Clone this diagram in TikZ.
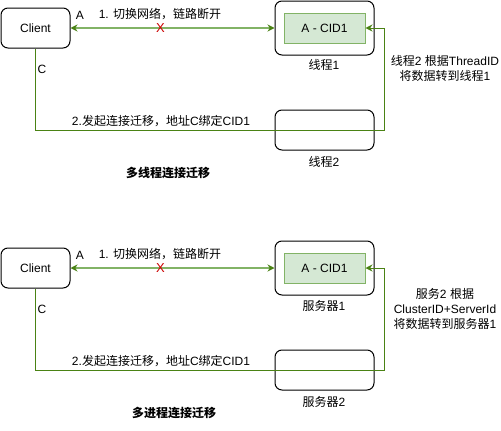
\documentclass[tikz,border=0pt]{standalone}
\usepackage{fontspec}
\setmainfont{Liberation Sans}
\newfontfamily\cjk{Noto Sans CJK SC}
\newcommand{\zh}[1]{{\cjk #1}}
\usetikzlibrary{arrows.meta,positioning}

\definecolor{linkLight}{HTML}{82B366}
\definecolor{linkDark}{HTML}{4A8214}
\definecolor{cidFill}{HTML}{D5E8D4}
\definecolor{crossRed}{HTML}{CC0000}

\begin{document}
\begin{tikzpicture}[
	x=1pt, y=-1pt,
	font=\fontsize{12}{15}\selectfont,
	>={Stealth[length=7pt,width=7pt,color=linkDark]},
	peer/.style={
		rectangle, rounded corners=7pt,
		draw=black, line width=1pt, fill=white,
		inner sep=0pt
	},
	cid/.style={
		rectangle, draw=linkLight, fill=cidFill,
		line width=1pt, minimum width=81pt, minimum height=30pt,
		inner sep=0pt
	},
	lost/.style={<->, line width=1.6pt, linkLight},
	move/.style={->, line width=1pt, linkDark},
	lbl/.style={inner sep=0pt, align=center},
	cross/.style={inner sep=0pt, text=crossRed, font=\fontsize{13}{15}\selectfont},
	ttl/.style={inner sep=0pt, font=\fontsize{12}{15}\selectfont\bfseries\cjk}
]
\useasboundingbox (0,0) rectangle (501,431);

% ---- Multi-thread migration (top)
\node[peer, minimum width=69pt, minimum height=40pt] (clientT) at (35.5, 28) {Client};
\node[peer, minimum width=99pt, minimum height=54pt] (thrOne) at (324.5, 28) {};
\node[cid] (cidT) at (324.5, 28) {A - CID1};
\node[peer, minimum width=99pt, minimum height=40pt] (thrTwo) at (324.5, 130) {};

\node[lbl] (thrOneL) at (324, 65) {\zh{线程}1};
\node[lbl] (thrTwoL) at (324, 162) {\zh{线程}2};

\draw[lost] (thrOne.west) -- (clientT.east);
\node[cross] (crossT) at (160.5, 28.5) {X};
\node[lbl] (addrAT) at (80, 15) {A};
\node[lbl] (stepOneT) at (160, 14) {1. \zh{切换网络，链路断开}};

\draw[move] (clientT.south) |- ([xshift=10pt]thrTwo.east) |- (cidT.east);
\node[lbl] (addrCT) at (42, 69) {C};
\node[lbl] (stepTwoT) at (161, 121) {2.\zh{发起连接迁移，地址}C\zh{绑定}CID1};
\node[lbl] (fwdT) at (445, 68.5) {\zh{线程}2 \zh{根据}ThreadID\\\zh{将数据转到线程}1};

\node[ttl] (titleT) at (168, 173) {多线程连接迁移};

% ---- Multi-process migration (bottom)
\node[peer, minimum width=69pt, minimum height=40pt] (clientB) at (35.5, 268) {Client};
\node[peer, minimum width=99pt, minimum height=54pt] (srvOne) at (324.5, 268) {};
\node[cid] (cidB) at (324.5, 268) {A - CID1};
\node[peer, minimum width=99pt, minimum height=40pt] (srvTwo) at (324.5, 370) {};

\node[lbl] (srvOneL) at (324, 306) {\zh{服务器}1};
\node[lbl] (srvTwoL) at (324, 402) {\zh{服务器}2};

\draw[lost] (srvOne.west) -- (clientB.east);
\node[cross] (crossB) at (160.5, 268.5) {X};
\node[lbl] (addrAB) at (80, 255) {A};
\node[lbl] (stepOneB) at (160, 254) {1. \zh{切换网络，链路断开}};

\draw[move] (clientB.south) |- ([xshift=10pt]srvTwo.east) |- (cidB.east);
\node[lbl] (addrCB) at (42, 309) {C};
\node[lbl] (stepTwoB) at (161, 361) {2.\zh{发起连接迁移，地址}C\zh{绑定}CID1};
\node[lbl] (fwdB) at (445, 309) {\zh{服务}2 \zh{根据}\\ClusterID+ServerId\\\zh{将数据转到服务器}1};

\node[ttl] (titleB) at (174, 413) {多进程连接迁移};

\end{tikzpicture}
\end{document}
